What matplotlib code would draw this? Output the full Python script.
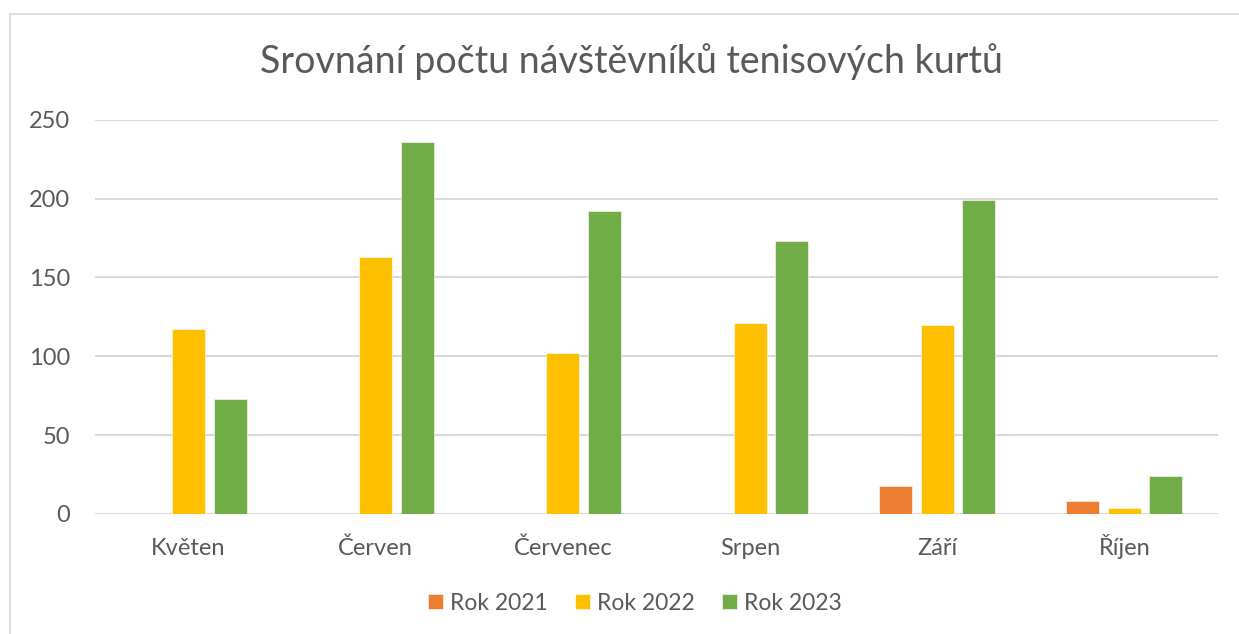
import numpy as np
import matplotlib
matplotlib.use("Agg")
import matplotlib.pyplot as plt
from matplotlib.patches import Rectangle

months = ["Květen", "Červen", "Červenec", "Srpen", "Září", "Říjen"]
series_names = ["Rok 2021", "Rok 2022", "Rok 2023"]
rok_2021 = [0, 0, 0, 0, 18, 8]
rok_2022 = [117, 163, 102, 121, 120, 4]
rok_2023 = [73, 236, 192, 173, 199, 24]
y_ticks = [0, 50, 100, 150, 200, 250]

COLORS = ["#ED7D31", "#FFC000", "#70AD47"]
TEXT = "#595959"
GRID = "#D9D9D9"

plt.rcParams["font.family"] = ["Lato", "DejaVu Sans"]

W, H = 1239, 634
fig = plt.figure(figsize=(W / 100, H / 100), dpi=100)
ax = fig.add_axes([95 / W, 1 - 514 / H, (1218 - 95) / W, (514 - 119.7) / H])

# chart area frame, cut off at right and bottom like the screenshot
fig.patches.append(Rectangle((10 / W, -0.1), 1.2, 1 - 14 / H + 0.1, transform=fig.transFigure,
                             fill=False, edgecolor=GRID, linewidth=1.3))

x = np.arange(len(months))
step, width = 0.222, 0.176
for i, (vals, name) in enumerate(zip([rok_2021, rok_2022, rok_2023], series_names)):
    ax.bar(x + (i - 1) * step, vals, width, color=COLORS[i], label=name, zorder=3,
           edgecolor="white", linewidth=0.4)

ax.set_xlim(-0.5, len(months) - 0.5)
ax.set_ylim(0, 250)
ax.set_yticks(y_ticks)
ax.set_xticks(x)
ax.set_xticklabels(months, va="baseline")
ax.yaxis.grid(True, color=GRID, linewidth=1.5, zorder=0)
ax.set_axisbelow(True)
for s in ax.spines.values():
    s.set_visible(False)
ax.tick_params(axis="both", length=0, labelsize=17, colors=TEXT)
ax.tick_params(axis="x", pad=29.5)
ax.tick_params(axis="y", pad=18)

fig.text(631 / W, 1 - 62 / H, "Srovnání počtu návštěvníků tenisových kurtů",
         ha="center", va="center", fontsize=27, color=TEXT)

leg = fig.legend(loc="center", bbox_to_anchor=(635 / W, 1 - 603 / H), ncol=3, frameon=False,
                 fontsize=16.5, handlelength=0.65, handleheight=0.65, handletextpad=0.3,
                 columnspacing=1.2)
for t in leg.get_texts():
    t.set_color(TEXT)

fig.savefig("out.png", dpi=100)
